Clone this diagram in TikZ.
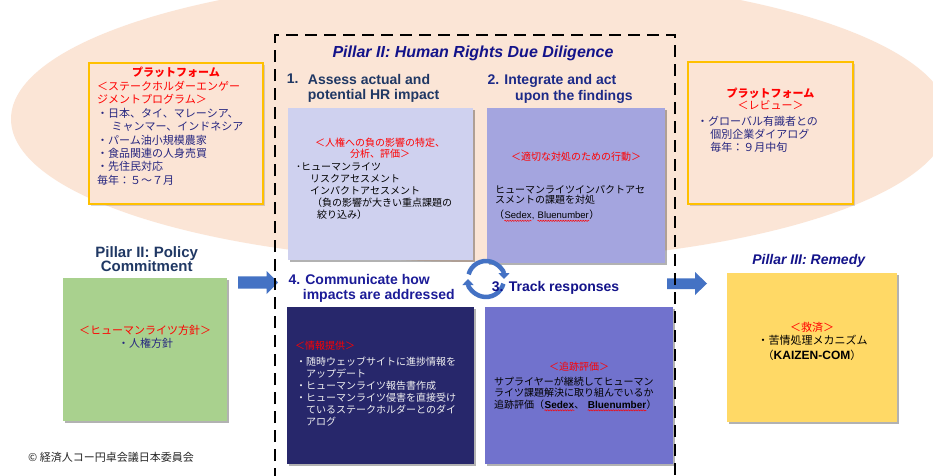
\documentclass[tikz,border=0pt]{standalone}
\usepackage{fontspec}
\setmainfont{Liberation Sans}
\newfontfamily\jp{Noto Sans CJK JP}
\usetikzlibrary{arrows.meta,shadows,decorations.pathmorphing}
\definecolor{peach}{HTML}{FBE5D6}
\definecolor{platfill}{HTML}{FBE4D5}
\definecolor{platline}{HTML}{FFC000}
\definecolor{boxone}{HTML}{CFD1EF}
\definecolor{boxtwo}{HTML}{A4A5DF}
\definecolor{boxthree}{HTML}{7172CD}
\definecolor{boxfour}{HTML}{27276B}
\definecolor{greenbox}{HTML}{A9D18E}
\definecolor{yellowbox}{HTML}{FFD966}
\definecolor{arrowblue}{HTML}{4472C4}
\definecolor{navyA}{HTML}{203864}
\definecolor{titleblue}{HTML}{13138A}
\definecolor{stepblue}{HTML}{1C2A88}
\definecolor{brightnavy}{HTML}{1C1C98}
\definecolor{platnavy}{HTML}{262680}
\definecolor{redtxt}{HTML}{FF0000}
\definecolor{lighttxt}{HTML}{F2F2F2}
\begin{document}
\begin{tikzpicture}[x=1pt,y=-1pt,
  cardbox/.style={draw=none, inner sep=0pt, drop shadow={shadow xshift=1.5pt, shadow yshift=-1.5pt, opacity=0.3, fill=black}},
  platbox/.style={draw=platline, line width=1.2pt, fill=platfill, inner sep=0pt, drop shadow={shadow xshift=1.5pt, shadow yshift=-1.5pt, opacity=0.15, fill=black}},
  jt/.style 2 args={font=\jp\fontsize{#1}{#2}\selectfont, inner sep=0pt, align=left},
  latin/.style={font=\fontsize{9.5}{10}\selectfont, inner sep=0pt, anchor=base west},
  latinb/.style={font=\bfseries\fontsize{10}{11}\selectfont, inner sep=0pt, anchor=base west},
  jseg/.style={font=\jp\fontsize{10}{12}\selectfont, inner sep=0pt, anchor=base west},
  wave/.style={draw=red, line width=0.5pt, decorate, decoration={snake, amplitude=0.6pt, segment length=2.5pt}},
  hd/.style={font=\bfseries\fontsize{14}{15}\selectfont, inner sep=0pt},
  dashline/.style={line width=2.6pt, dash pattern=on 12pt off 7pt, black},
  cyc/.style={line width=4.5pt, arrowblue, -{Triangle[length=6pt,width=11pt]}},
  blockarrow/.style={fill=arrowblue}
]
\useasboundingbox (0,0) rectangle (933,475);
\fill[white] (0,0) rectangle (933,475);
\begin{scope}
  \clip (0,0) rectangle (933,475);
  \fill[peach] (480,119) ellipse [x radius=469, y radius=143];
\end{scope}

% platform boxes
\node[platbox, minimum width=174pt, minimum height=141pt] (platL) at (176,133.5) {};
\node[platbox, minimum width=165pt, minimum height=142pt] (platR) at (770.5,133) {};

% step boxes
\node[cardbox, fill=boxone, minimum width=185pt, minimum height=152pt] (b1) at (380.5,184) {};
\node[cardbox, fill=boxtwo, minimum width=178pt, minimum height=155pt] (b2) at (576,185.5) {};
\node[cardbox, fill=boxfour, minimum width=187pt, minimum height=157pt] (b4) at (380.5,385.5) {};
\node[cardbox, fill=boxthree, minimum width=188pt, minimum height=157pt] (b3) at (579,385.5) {};
\node[cardbox, fill=greenbox, minimum width=164pt, minimum height=143pt] (gb) at (145,349.5) {};
\node[cardbox, fill=yellowbox, minimum width=170pt, minimum height=149pt] (yb) at (812,347.5) {};

% block arrows
\fill[blockarrow] (238,276.3) -- (266.7,276.3) -- (266.7,271) -- (278,282.5) -- (266.7,294) -- (266.7,288.7) -- (238,288.7) -- cycle;
\fill[blockarrow] (667,278.3) -- (695,278.3) -- (695,272) -- (707,283.5) -- (695,295) -- (695,289) -- (667,289) -- cycle;

% dashed frame
\begin{scope}
  \clip (0,0) rectangle (933,475);
  \draw[dashline] (275,480) -- (275,35) -- (675,35) -- (675,480);
\end{scope}

% cycle arrows
\begin{scope}[shift={(486,279)}, yscale=-1]
  \draw[cyc] (165:18) arc[start angle=165, end angle=0, radius=18];
  \draw[cyc] (-15:18) arc[start angle=-15, end angle=-180, radius=18];
\end{scope}

% headings
\node[font=\bfseries\itshape\fontsize{16}{18}\selectfont, text=titleblue, inner sep=0pt] (title) at (473,53.5) {Pillar II: Human Rights Due Diligence};
\node[hd, text=navyA, anchor=north west] (s1n) at (286.7,74) {1.};
\node[hd, text=navyA, anchor=north west, align=left] (s1) at (307.7,74) {Assess actual and\\potential HR impact};
\node[hd, text=stepblue, anchor=north west] (s2a) at (487.3,74) {2. Integrate and act};
\node[hd, text=stepblue, anchor=north west] (s2b) at (515,89.8) {upon the findings};
\node[hd, text=brightnavy, anchor=north west] (s4a) at (288.3,273.8) {4. Communicate how};
\node[hd, text=brightnavy, anchor=north west] (s4b) at (302.7,289.1) {impacts are addressed};
\node[hd, text=titleblue, anchor=north west] (s3) at (491.7,280.8) {3. Track responses};
\node[font=\bfseries\fontsize{15}{14}\selectfont, text=navyA, inner sep=0pt, align=center] (pol) at (146.7,258.7) {Pillar II: Policy\\Commitment};
\node[font=\bfseries\itshape\fontsize{14}{15}\selectfont, text=titleblue, inner sep=0pt] (rem) at (808.7,261.2) {Pillar III: Remedy};

% left platform text
\node[jt={11}{13.4}, text=redtxt, align=center] (plh) at (176,72.7) {\bfseries プラットフォーム};
\node[jt={11}{13.4}, text=platnavy, anchor=north west] (plt) at (97,80.9) {\textcolor{redtxt}{＜ステークホルダーエンゲー}\\\textcolor{redtxt}{ジメントプログラム＞}\\・日本、タイ、マレーシア、\\\hspace*{1.3em}ミャンマー、インドネシア\\・パーム油小規模農家\\・食品関連の人身売買\\・先住民対応\\毎年：５～７月};

% right platform text
\node[jt={11}{13.4}, text=redtxt] (prh) at (770.5,93) {\bfseries プラットフォーム};
\node[jt={11}{13.4}, text=redtxt] (prh2) at (770.5,105.5) {＜レビュー＞};
\node[jt={11}{13.2}, text=platnavy, anchor=north west] (prt) at (697,115.9) {・グローバル有識者との\\\hspace*{1.2em}個別企業ダイアログ\\\hspace*{1.2em}毎年：９月中旬};

% box 1 text
\node[jt={10}{11}, text=redtxt, align=center] (b1h) at (380,148) {＜人権への負の影響の特定、\\分析、評価＞};
\node[jt={10}{12}, text=black, anchor=north west] (b1t) at (296,162.1) {･ヒューマンライツ\\\hspace*{14pt}リスクアセスメント\\\hspace*{14pt}インパクトアセスメント\\\hspace*{16pt}（負の影響が大きい重点課題の\\\hspace*{21pt}絞り込み）};

% box 2 text
\node[jt={10}{12}, text=redtxt] (b2h) at (576,156.7) {＜適切な対処のための行動＞};
\node[jt={10}{10.5}, text=black, anchor=north west] (b2t) at (495,184.7) {ヒューマンライツインパクトアセ\\スメントの課題を対処};
\node[jseg] (b2p1) at (494,218.6) {（};
\node[latin] (b2sed) at (b2p1.base east) {Sedex};
\node[latin] (b2com) at (b2sed.base east) {,\hspace*{2.7pt}};
\node[latin] (b2blu) at (b2com.base east) {Bluenumber};
\node[jseg] (b2p2) at (b2blu.base east) {）};
\draw[wave] ([yshift=-2.2pt]b2sed.base west) -- ([yshift=-2.2pt]b2sed.base east);
\draw[wave] ([yshift=-2.2pt]b2blu.base west) -- ([yshift=-2.2pt]b2blu.base east);

% box 4 text
\node[jt={10}{12}, text=redtxt, anchor=north west] (b4h) at (295,341.1) {＜情報提供＞};
\node[jt={10}{12.1}, text=lighttxt, anchor=north west] (b4t) at (296,356.4) {・随時ウェッブサイトに進捗情報を\\\hspace*{1em}アップデート\\・ヒューマンライツ報告書作成\\・ヒューマンライツ侵害を直接受け\\\hspace*{1em}ているステークホルダーとのダイ\\\hspace*{1em}アログ};

% box 3 text
\node[jt={10}{12}, text=redtxt] (b3h) at (579,366.7) {＜追跡評価＞};
\node[jt={10}{11.7}, text=black, anchor=north west] (b3t) at (494,376.4) {サプライヤーが継続してヒューマン\\ライツ課題解決に取り組んでいるか};
\node[jseg] (b3a) at (494,408.1) {追跡評価（};
\node[latinb] (b3sed) at (b3a.base east) {Sedex};
\node[jseg] (b3com) at (b3sed.base east) {、\hspace*{3pt}};
\node[latinb] (b3blu) at (b3com.base east) {Bluenumber};
\node[jseg] (b3end) at (b3blu.base east) {）};
\draw[wave] ([yshift=-2.2pt]b3sed.base west) -- ([yshift=-2.2pt]b3sed.base east);
\draw[wave] ([yshift=-2.2pt]b3blu.base west) -- ([yshift=-2.2pt]b3blu.base east);

% green box text
\node[jt={11}{13}, text=redtxt] (gh) at (145,330) {＜ヒューマンライツ方針＞};
\node[jt={11}{13}, text=platnavy] (gt) at (145.5,343.3) {・人権方針};

% yellow box text
\node[jt={11}{13}, text=redtxt] (yh) at (812,327.3) {＜救済＞};
\node[jt={11}{13}, text=black] (yt) at (812.5,340.7) {・苦情処理メカニズム};
\node[jt={11}{13}, text=black] (yt2) at (812,355) {（{\normalfont\bfseries\fontsize{12}{13}\selectfont KAIZEN-COM}）};

% copyright
\node[jt={11}{12}, text=black!85, anchor=west] (copy) at (28,457.5) {© 経済人コー円卓会議日本委員会};
\end{tikzpicture}
\end{document}
